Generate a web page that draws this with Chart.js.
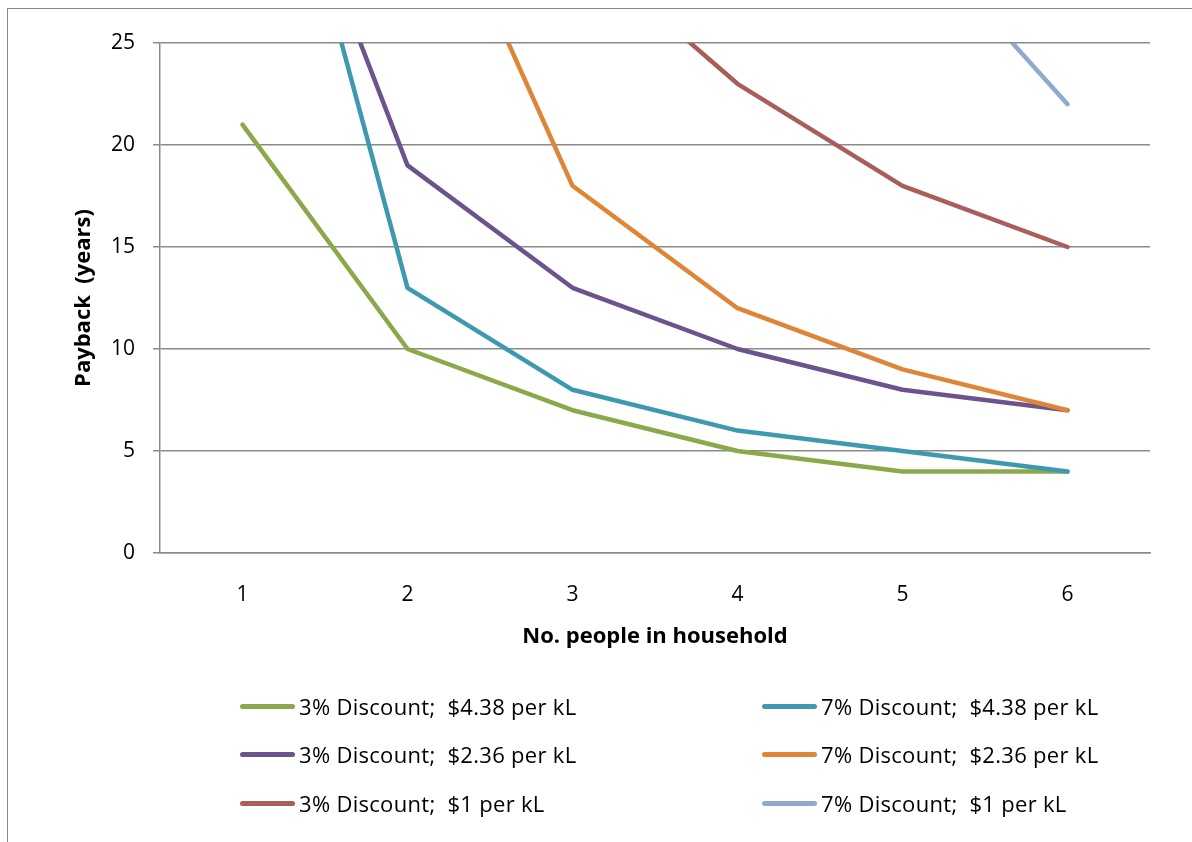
<!DOCTYPE html>
<html>
<head>
<meta charset="utf-8">
<script src="https://cdn.jsdelivr.net/npm/chart.js@4"></script>
<style>
  html, body { margin: 0; padding: 0; background: #fff; }
  #wrap { position: relative; width: 1192px; height: 842px; overflow: hidden; }
  #frame { position: absolute; left: 7px; top: 8px; width: 1300px; height: 900px;
           border-left: 1.5px solid #8a8a8a; border-top: 1.5px solid #8a8a8a; }
  canvas { position: absolute; left: 0; top: 0; }
  #legend { position: absolute; left: 0; top: 0; width: 1192px; height: 842px; pointer-events: none;
            font-family: "Open Sans", Lato, sans-serif; font-size: 22px; letter-spacing: 0.3px; color: #000; }
  .item { position: absolute; display: flex; align-items: center; white-space: pre; height: 30px; }
  .swatch { width: 55px; height: 5px; border-radius: 3px; margin-right: 4px; }
</style>
</head>
<body>
<div id="wrap">
  <div id="frame"></div>
  <canvas id="chart" width="1192" height="842"></canvas>
  <div id="legend"></div>
</div>
<script>
// Household size categories
const people = ['1', '2', '3', '4', '5', '6'];

// Payback period (years) per scenario; null where the curve is far off the top of the axis
const d3_438 = [21, 10, 7, 5, 4, 4];
const d7_438 = [43, 13, 8, 6, 5, 4];
const d3_236 = [40, 19, 13, 10, 8, 7];
const d7_236 = [null, 36, 18, 12, 9, 7];
const d3_100 = [null, null, 30, 23, 18, 15];
const d7_100 = [null, null, null, null, 31, 22];

const seriesNames = [
  '3% Discount;  $4.38 per kL',
  '7% Discount;  $4.38 per kL',
  '3% Discount;  $2.36 per kL',
  '7% Discount;  $2.36 per kL',
  '3% Discount;  $1 per kL',
  '7% Discount;  $1 per kL'
];
const seriesColors = ['#8ba84a', '#3d99b0', '#6c538e', '#df8537', '#a95e5b', '#8fa9cf'];
const seriesValues = [d3_438, d7_438, d3_236, d7_236, d3_100, d7_100];

const yTicks = [0, 5, 10, 15, 20, 25];

const FONT = '"Open Sans", Lato, sans-serif';

const datasets = seriesValues.map((vals, i) => ({
  label: seriesNames[i],
  data: vals,
  borderColor: seriesColors[i],
  backgroundColor: seriesColors[i],
  borderWidth: 4.5,
  borderCapStyle: 'round',
  borderJoinStyle: 'round',
  pointRadius: 0,
  pointHoverRadius: 0,
  fill: false,
  tension: 0,
  clip: 0,
  order: seriesValues.length - i
}));

const chart = new Chart(document.getElementById('chart'), {
  type: 'line',
  data: { labels: people, datasets },
  options: {
    responsive: false,
    animation: false,
    events: [],
    layout: { padding: { left: 71, top: 43, right: 42, bottom: 189 } },
    plugins: { legend: { display: false }, tooltip: { enabled: false } },
    scales: {
      x: {
        offset: true,
        grid: { display: false, drawTicks: false },
        border: { display: true, color: '#8a8a8a', width: 1.5 },
        ticks: { padding: 29, color: '#000', font: { family: FONT, size: 21 } },
        title: {
          display: true, text: 'No. people in household', color: '#000',
          font: { family: FONT, size: 22, weight: 'bold' }, padding: { top: 0, bottom: 3 }
        },
        afterFit: (s) => { s.height = 100; }
      },
      y: {
        min: 0, max: 25,
        afterBuildTicks: (s) => { s.ticks = yTicks.map(v => ({ value: v })); },
        grid: { color: '#8a8a8a', lineWidth: 1.5, tickLength: 7, drawTicks: true },
        border: { display: true, color: '#8a8a8a', width: 1.5 },
        ticks: { padding: 18, color: '#000', font: { family: FONT, size: 21 } },
        title: {
          display: true, text: 'Payback  (years)', color: '#000',
          font: { family: FONT, size: 22, weight: 'bold' }, padding: { top: 0, bottom: 0 }
        },
        afterFit: (s) => { s.width = 89; }
      }
    }
  }
});

// Two-column legend built from the chart's own datasets
const legendEl = document.getElementById('legend');
const colX = [240, 762];
const rowY = [706, 754, 803];
chart.data.datasets.forEach((ds, i) => {
  const item = document.createElement('div');
  item.className = 'item';
  item.style.left = colX[i % 2] + 'px';
  item.style.top = (rowY[Math.floor(i / 2)] - 15) + 'px';
  const sw = document.createElement('span');
  sw.className = 'swatch';
  sw.style.background = ds.borderColor;
  const tx = document.createElement('span');
  tx.textContent = ds.label;
  item.appendChild(sw);
  item.appendChild(tx);
  legendEl.appendChild(item);
});
</script>
</body>
</html>
